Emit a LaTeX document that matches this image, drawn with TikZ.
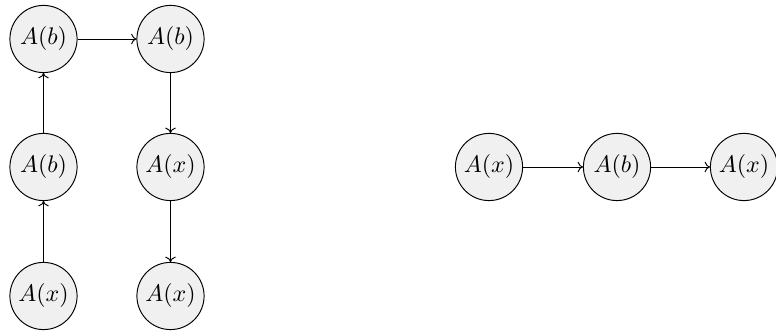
\documentclass[tikz,border=0pt]{standalone}
\usetikzlibrary{arrows.meta}
\begin{document}
\begin{tikzpicture}[x=0.41667pt,y=-0.41667pt,
  st/.style={circle,draw,fill=gray!12,minimum size=28pt,inner sep=0pt},
  ar/.style={-{To[length=2.2pt,width=4.4pt]}}]
\useasboundingbox (0,0) rectangle (776,335);
\node[st] (a1) at (43.5,296) {$A(x)$};
\node[st] (a2) at (43.5,167) {$A(b)$};
\node[st] (a3) at (43.5,39) {$A(b)$};
\node[st] (b1) at (170.5,39) {$A(b)$};
\node[st] (b2) at (170.5,167) {$A(x)$};
\node[st] (b3) at (170.5,296) {$A(x)$};
\node[st] (c1) at (489,167) {$A(x)$};
\node[st] (c2) at (617,167) {$A(b)$};
\node[st] (c3) at (744,167) {$A(x)$};
\draw[ar] (a1) -- (a2);
\draw[ar] (a2) -- (a3);
\draw[ar] (a3) -- (b1);
\draw[ar] (b1) -- (b2);
\draw[ar] (b2) -- (b3);
\draw[ar] (c1) -- (c2);
\draw[ar] (c2) -- (c3);
\end{tikzpicture}
\end{document}
